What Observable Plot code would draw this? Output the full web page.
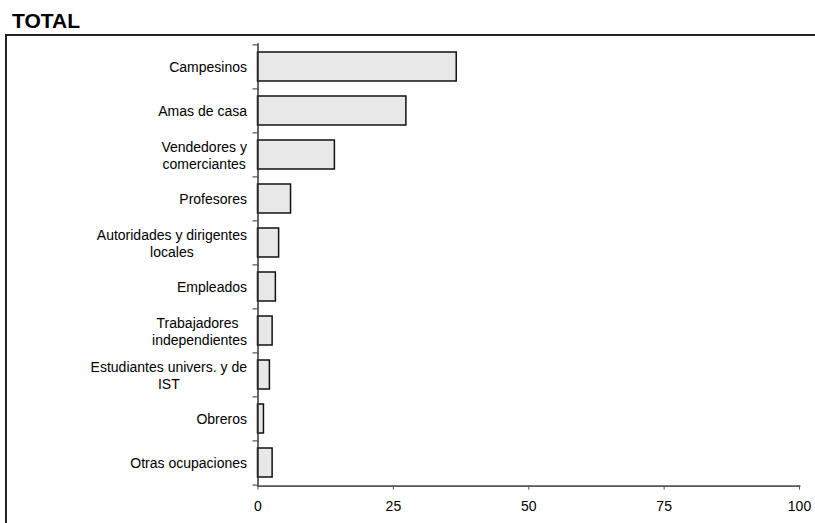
<!DOCTYPE html>
<html><head><meta charset="utf-8">
<script src="https://cdn.jsdelivr.net/npm/d3@7"></script>
<script src="https://cdn.jsdelivr.net/npm/@observablehq/plot@0.6"></script>
<style>
body{margin:0;background:#fff;font-family:Arial,"Liberation Sans",sans-serif;width:815px;height:523px;overflow:hidden;position:relative}
#title{position:absolute;left:12px;top:10px;line-height:21px;font-weight:bold;font-size:21px;color:#000}
#frame{position:absolute;left:5px;top:34px;width:900px;height:600px;border-left:2px solid #222;border-top:2px solid #222}
#chart{position:absolute;left:0;top:0}
</style></head><body>
<div id="title">TOTAL</div>
<div id="frame"><div id="chart"></div></div>
<script>
const categories = [
  "Campesinos",
  "Amas de casa",
  "Vendedores y\ncomerciantes",
  "Profesores",
  "Autoridades y dirigentes\nlocales",
  "Empleados",
  "Trabajadores \nindependientes",
  "Estudiantes univers. y de\nIST",
  "Obreros",
  "Otras ocupaciones"
];
const values = [36.7, 27.4, 14.2, 6.1, 3.9, 3.3, 2.7, 2.2, 1.1, 2.7];
const xTicks = [0, 25, 50, 75, 100];

const data = categories.map((c, i) => ({category: c, value: values[i]}));

const W = 808, H = 487, mL = 250.5, mR = 16, mT = 7.3, mB = 37.3;
const step = (H - mT - mB) / categories.length;

const svg = Plot.plot({
  width: W, height: H,
  marginLeft: mL, marginRight: mR, marginTop: mT, marginBottom: mB,
  style: {fontFamily: 'Arial, "Liberation Sans", sans-serif', fontSize: "14px", color: "#000", background: "transparent"},
  x: {domain: [0, 100], label: null},
  y: {domain: categories, paddingInner: 0.345, paddingOuter: 0.1725, label: null},
  marks: [
    Plot.barX(data, {x: "value", y: "category", fill: "#e8e8e8", stroke: "#111", strokeWidth: 1.5}),
    Plot.frame({anchor: "bottom", stroke: "#555", strokeWidth: 1.8}),
    Plot.ruleX([0], {stroke: "#333", strokeWidth: 1.5}),
    Plot.axisY(categories, {tickSize: 5, tickFormat: () => "", dy: -step / 2, stroke: "#333", label: null}),
    Plot.axisY([categories[categories.length - 1]], {tickSize: 5, tickFormat: () => "", dy: step / 2, stroke: "#333", label: null}),
    Plot.axisY(categories, {tickSize: 0, tickPadding: 11, lineHeight: 1.2, fill: "#000", label: null}),
    Plot.axisX(xTicks, {tickSize: 4, tickPadding: 11, stroke: "#555", fill: "#000", label: null})
  ]
});
document.getElementById("chart").append(svg);

svg.querySelectorAll('g[aria-label="y-axis tick label"] text').forEach(t => {
  const ts = t.querySelectorAll("tspan");
  if (ts.length > 1) {
    t.style.whiteSpace = "pre";
    let m = 0;
    ts.forEach(s => { m = Math.max(m, s.getComputedTextLength()); });
    t.setAttribute("text-anchor", "middle");
    ts.forEach(s => s.setAttribute("x", -m / 2));
  }
});
</script>
</body></html>
